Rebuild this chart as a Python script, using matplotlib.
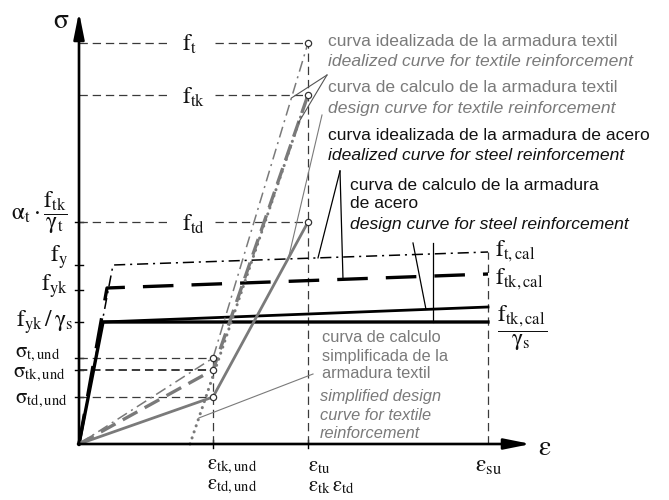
import numpy as np
import matplotlib
matplotlib.use("Agg")
import matplotlib.pyplot as plt

plt.rcParams['mathtext.fontset'] = 'stix'
plt.rcParams['lines.scale_dashes'] = False
plt.rcParams['font.family'] = ['Liberation Sans', 'DejaVu Sans']

# ---------------- data (schematic strain / stress units) ----------------
eps_und = 134.0      # eps_tk,und = eps_td,und
eps_tu = 229.0       # eps_tu = eps_tk = eps_td
eps_su = 409.0       # eps_su
eps_simple0 = 111.0  # start of simplified design curve

f_t, f_tk, f_td = 401.0, 349.0, 222.0
sig_t_und, sig_tk_und, sig_td_und = 86.0, 74.0, 47.0

# textile curves
tex_ideal_eps = [0, eps_und, eps_tu]
tex_ideal_sig = [0, sig_t_und, f_t]
tex_char_eps = [0, eps_und, eps_tu]
tex_char_sig = [0, sig_tk_und, f_tk]
tex_design_eps = [0, eps_und, eps_tu]
tex_design_sig = [0, sig_td_und, f_td]
tex_simple_eps = [eps_simple0, eps_tu]
tex_simple_sig = [0, f_tk]

# steel curves
st_ideal_eps = [0, 34, eps_su]      # f_y -> f_t,cal
st_ideal_sig = [0, 179, 192]
st_char_eps = [0, 28, eps_su]       # f_yk -> f_tk,cal
st_char_sig = [0, 156, 170]
st_design_eps = [0, 24, eps_su]     # f_yk/gamma_s (flat)
st_design_sig = [0, 122, 122]
st_harden_eps = [24, eps_su]        # f_yk/gamma_s -> f_tk,cal/gamma_s
st_harden_sig = [122, 137]

f_y_tick, f_yk_tick, f_yd_tick = 179.0, 154.0, 122.0
y_ticks = [f_td, f_y_tick, f_yk_tick, f_yd_tick, sig_t_und, sig_tk_und, sig_td_und]
x_ticks = [eps_und, eps_tu]

GRAY = '#7a7a7a'
REF = '#3a3a3a'

fig = plt.figure(figsize=(6.69, 5.0), dpi=100)
ax = fig.add_axes([0, 0, 1, 1])
ax.set_xlim(-79, 590)
ax.set_ylim(-56, 444)
ax.axis('off')

# ---------------- axes with arrows ----------------
arr = dict(arrowstyle='-|>,head_length=0.8,head_width=0.16', lw=1.9, color='k',
           shrinkA=0, shrinkB=0, mutation_scale=20)
ax.annotate('', xy=(0, 432), xytext=(0, -1), arrowprops=arr)
ax.annotate('', xy=(452, 0), xytext=(-1, 0), arrowprops=arr)
for yt in y_ticks:
    ax.plot([-4, 4], [yt, yt], color='k', lw=1.0)
for xt in x_ticks:
    ax.plot([xt, xt], [-4, 4], color='k', lw=1.0)

# ---------------- reference dashed lines ----------------
ref_kw = dict(color=REF, lw=0.9, dashes=(6, 3.5))
for lev in [f_t, f_tk, f_td]:
    ax.plot([0, 91], [lev, lev], **ref_kw)
    ax.plot([136, eps_tu], [lev, lev], **ref_kw)
ax.plot([0, eps_und], [sig_t_und] * 2, **ref_kw)
ax.plot([0, eps_und], [sig_tk_und] * 2, color=REF, lw=1.4, dashes=(6, 3.5))
ax.plot([0, eps_und], [sig_td_und] * 2, **ref_kw)
ax.plot([eps_und, eps_und], [0, sig_t_und], **ref_kw)
ax.plot([eps_tu, eps_tu], [0, f_t], **ref_kw)
ax.plot([eps_su, eps_su], [0, st_ideal_sig[-1]], **ref_kw)

# ---------------- steel curves ----------------
ax.plot(st_ideal_eps, st_ideal_sig, color='k', lw=1.1, dashes=(8, 3.5, 1.5, 3.5))
ax.plot(st_char_eps, st_char_sig, color='k', lw=2.4, dashes=(22, 13))
ax.plot(st_design_eps, st_design_sig, color='k', lw=2.4, solid_joinstyle='miter')
ax.plot(st_harden_eps, st_harden_sig, color='k', lw=2.0)

# ---------------- textile curves ----------------
ax.plot(tex_ideal_eps, tex_ideal_sig, color=GRAY, lw=1.1, dashes=(8, 3.5, 1.5, 3.5))
ax.plot(tex_char_eps, tex_char_sig, color=GRAY, lw=2.4, dashes=(12, 6))
ax.plot(tex_design_eps, tex_design_sig, color=GRAY, lw=2.0)
ax.plot(tex_simple_eps, tex_simple_sig, color=GRAY, lw=2.2, dashes=(0.1, 4.5),
        dash_capstyle='round')

# circles
circ_eps = [eps_tu, eps_tu, eps_tu, eps_und, eps_und, eps_und]
circ_sig = [f_t, f_tk, f_td, sig_t_und, sig_tk_und, sig_td_und]
ax.plot(circ_eps, circ_sig, 'o', ms=4.5, mfc='white', mec='#333333', mew=0.9, zorder=5)

# ---------------- leader lines ----------------
def on_curve(eps, sig, s):
    return np.interp(s, sig, eps)

lead_kw = dict(color='#555555', lw=0.8)
p0 = (248, 369)
for curve_e, curve_s, s in [(tex_ideal_eps, tex_ideal_sig, 346),
                            (tex_char_eps, tex_char_sig, 321)]:
    ax.plot([p0[0], on_curve(curve_e, curve_s, s)], [p0[1], s], **lead_kw)
s = 186
ax.plot([243, on_curve(tex_design_eps, tex_design_sig, s)], [329, s], color=GRAY, lw=0.8)

blk = dict(color='k', lw=0.9)
apex = (261, 273)
for curve_e, curve_s, e in [(st_ideal_eps, st_ideal_sig, 239),
                            (st_char_eps, st_char_sig, 264)]:
    ax.plot([apex[0], e], [apex[1], np.interp(e, curve_e, curve_s)], **blk)
e = 347
ax.plot([334, e], [201, np.interp(e, st_harden_eps, st_harden_sig)], **blk)
ax.plot([354, 354], [201, st_design_sig[-1]], **blk)

s = 26
ax.plot([234, on_curve(tex_simple_eps, tex_simple_sig, s)], [70, s], color=GRAY, lw=0.8)

# ---------------- descriptive labels ----------------
FS = 12.6
labels = [
    (249, 403, 'curva idealizada de la armadura textil', GRAY, 'normal'),
    (249, 383, 'idealized curve for textile reinforcement', GRAY, 'italic'),
    (249, 356, 'curva de calculo de la armadura textil', GRAY, 'normal'),
    (249, 336, 'design curve for textile reinforcement', GRAY, 'italic'),
    (249, 308, 'curva idealizada de la armadura de acero', '#111111', 'normal'),
    (249, 289, 'idealized curve for steel reinforcement', '#111111', 'italic'),
    (271, 259, 'curva de calculo de la armadura', '#111111', 'normal'),
    (271, 240, 'de acero', '#111111', 'normal'),
    (271, 219, 'design curve for steel reinforcement', '#111111', 'italic'),
]
for x, y, t, c, st in labels:
    ax.text(x, y, t, color=c, fontsize=FS, style=st, ha='left', va='center')

simple_labels = [
    (243, 107, 'curva de calculo', 'normal'),
    (243, 88, 'simplificada de la', 'normal'),
    (243, 70, 'armadura textil', 'normal'),
    (241, 47, 'simplified design', 'italic'),
    (241, 28, 'curve for textile', 'italic'),
    (241, 10, 'reinforcement', 'italic'),
]
for x, y, t, st in simple_labels:
    ax.text(x, y, t, color=GRAY, fontsize=11.8, style=st, ha='left', va='center')

# ---------------- math labels ----------------
MF = 17
def m(x, y, s, ha='left', fs=MF):
    ax.text(x, y, s, fontsize=fs, ha=ha, va='center', color='#111111')

m(-18, 423, r'$\mathrm{σ}$', ha='center', fs=20)
m(103, 400, r'$\mathrm{f}_{\mathrm{t}}$')
m(103, 347, r'$\mathrm{f}_{\mathrm{tk}}$')
m(103, 220, r'$\mathrm{f}_{\mathrm{td}}$')
m(-11, 231, r'$\mathrm{α}_{\mathrm{t}}\cdot\dfrac{\mathrm{f}_{\mathrm{tk}}}{\mathrm{γ}_{\mathrm{t}}}$', ha='right')
m(-11, 187, r'$\mathrm{f}_{\mathrm{y}}$', ha='right')
m(-11, 158, r'$\mathrm{f}_{\mathrm{yk}}$', ha='right')
m(-6, 122, r'$\mathrm{f}_{\mathrm{yk}}\,/\,\mathrm{γ}_{\mathrm{s}}$', ha='right')
m(-64, 90, r'$\mathrm{σ}_{\mathrm{t,und}}$', fs=15)
m(-66, 70, r'$\mathrm{σ}_{\mathrm{tk,und}}$', fs=15)
m(-64, 43, r'$\mathrm{σ}_{\mathrm{td,und}}$', fs=15)
m(128, -22, r'$\mathrm{ε}_{\mathrm{tk,und}}$', fs=15)
m(128, -42, r'$\mathrm{ε}_{\mathrm{td,und}}$', fs=15)
m(229, -22, r'$\mathrm{ε}_{\mathrm{tu}}$', fs=15)
m(229, -42, r'$\mathrm{ε}_{\mathrm{tk}}\,\mathrm{ε}_{\mathrm{td}}$', fs=15)
m(396, -22, r'$\mathrm{ε}_{\mathrm{su}}$')
m(459, -4, r'$\mathrm{ε}$', fs=20)
m(416, 193, r'$\mathrm{f}_{\mathrm{t,cal}}$')
m(416, 165, r'$\mathrm{f}_{\mathrm{tk,cal}}$')
m(418, 116, r'$\dfrac{\mathrm{f}_{\mathrm{tk,cal}}}{\mathrm{γ}_{\mathrm{s}}}$')

fig.savefig('out.png', dpi=100, facecolor='white')
